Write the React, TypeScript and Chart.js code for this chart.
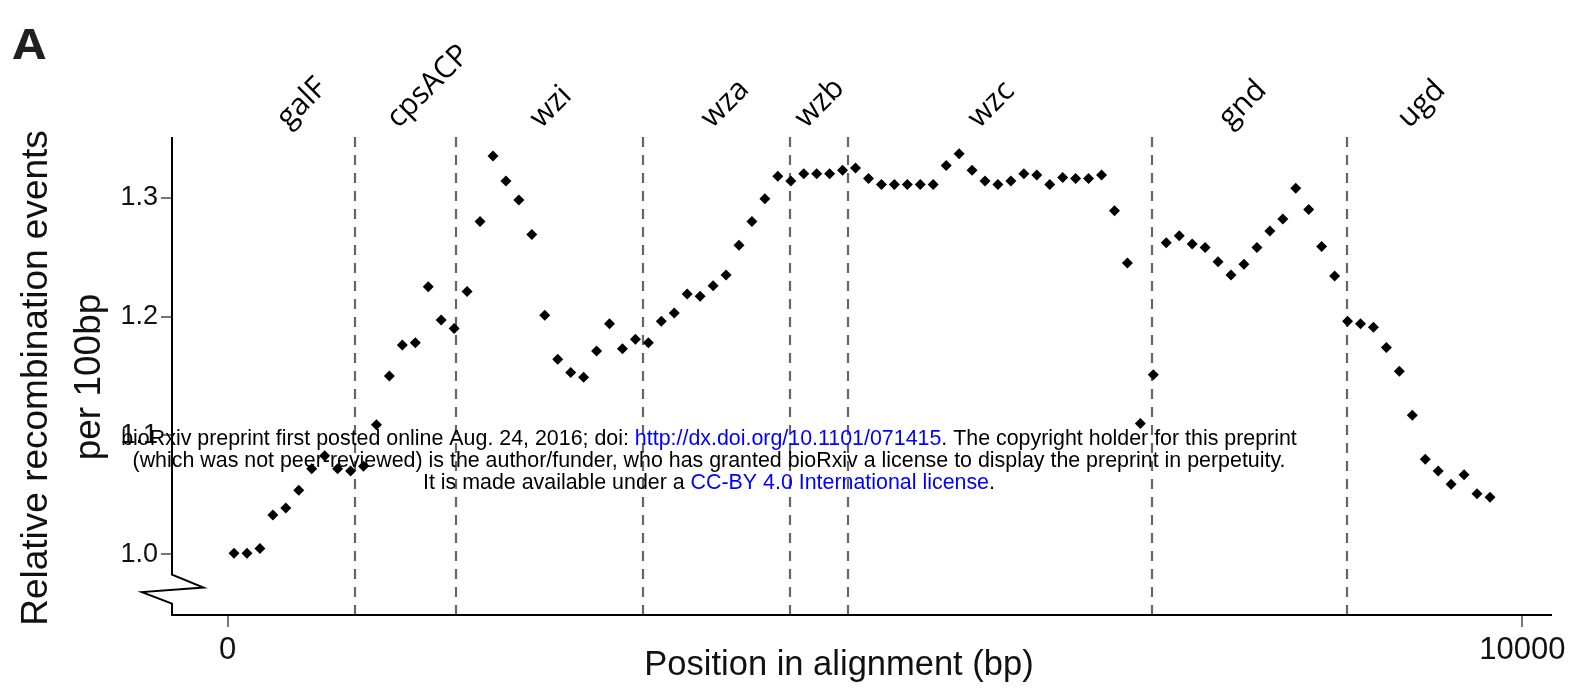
import React, { useEffect, useRef } from "react";
import { Chart, registerables } from "chart.js";

Chart.register(...registerables);

// Window centres along the alignment (bp)
const positions = [
  50, 150, 250, 350, 450, 550, 650, 750, 850, 950,
  1050, 1150, 1250, 1350, 1450, 1550, 1650, 1750, 1850, 1950,
  2050, 2150, 2250, 2350, 2450, 2550, 2650, 2750, 2850, 2950,
  3050, 3150, 3250, 3350, 3450, 3550, 3650, 3750, 3850, 3950,
  4050, 4150, 4250, 4350, 4450, 4550, 4650, 4750, 4850, 4950,
  5050, 5150, 5250, 5350, 5450, 5550, 5650, 5750, 5850, 5950,
  6050, 6150, 6250, 6350, 6450, 6550, 6650, 6750, 6850, 6950,
  7050, 7150, 7250, 7350, 7450, 7550, 7650, 7750, 7850, 7950,
  8050, 8150, 8250, 8350, 8450, 8550, 8650, 8750, 8850, 8950,
  9050, 9150, 9250, 9350, 9450, 9550, 9650, 9750,
];

// Relative recombination events per 100bp
const values = [
  1.001, 1.001, 1.005, 1.033, 1.039, 1.054, 1.072, 1.083, 1.072, 1.07,
  1.074, 1.109, 1.15, 1.176, 1.178, 1.225, 1.197, 1.19, 1.221, 1.28,
  1.335, 1.314, 1.298, 1.269, 1.201, 1.164, 1.153, 1.149, 1.171, 1.194,
  1.173, 1.181, 1.178, 1.196, 1.203, 1.219, 1.217, 1.226, 1.235, 1.26,
  1.28, 1.299, 1.318, 1.314, 1.32, 1.32, 1.32, 1.323, 1.325, 1.316,
  1.311, 1.311, 1.311, 1.311, 1.311, 1.327, 1.337, 1.323, 1.314, 1.311,
  1.314, 1.32, 1.319, 1.311, 1.317, 1.316, 1.316, 1.319, 1.289, 1.245,
  1.11, 1.151, 1.262, 1.268, 1.261, 1.258, 1.246, 1.235, 1.244, 1.258,
  1.272, 1.282, 1.308, 1.29, 1.259, 1.234, 1.196, 1.194, 1.191, 1.174,
  1.154, 1.117, 1.08, 1.07, 1.059, 1.067, 1.051, 1.048,
];

// Gene boundaries (bp) and gene labels (label start positions in bp)
const geneBoundaries = [981, 1761, 3205, 4345, 4791, 7140, 8646];
const geneNames = ["galF", "cpsACP", "wzi", "wza", "wzb", "wzc", "gnd", "ugd"];
const geneLabelPositions = [469, 1318, 2422, 3743, 4469, 5805, 7743, 9125];

const yTickValues = [1.0, 1.1, 1.2, 1.3];
const xTickValues = [0, 10000];

const xTitle = "Position in alignment (bp)";
const yTitleLines = ["Relative recombination events", "per 100bp"];
const panelLabel = "A";

const watermarkLines: { text: string; color: string }[][] = [
  [
    { text: "bioRxiv preprint first posted online Aug. 24, 2016; doi: ", color: "#000000" },
    { text: "http://dx.doi.org/10.1101/071415", color: "#0000ff" },
    { text: ". The copyright holder for this preprint", color: "#000000" },
  ],
  [
    {
      text: "(which was not peer-reviewed) is the author/funder, who has granted bioRxiv a license to display the preprint in perpetuity.",
      color: "#000000",
    },
  ],
  [
    { text: "It is made available under a ", color: "#000000" },
    { text: "CC-BY 4.0 International license", color: "#0000ff" },
    { text: ".", color: "#000000" },
  ],
];

const SANS = "'Liberation Sans', Arial, Helvetica, sans-serif";
const GENE_FONT = "'Open Sans', 'Noto Sans', sans-serif";

export default function App() {
  const canvasRef = useRef<HTMLCanvasElement | null>(null);

  useEffect(() => {
    const canvas = canvasRef.current;
    if (!canvas) return;

    const overlay = {
      id: "overlay",
      beforeDatasetsDraw(chart: any) {
        const { ctx, chartArea, scales } = chart;
        ctx.save();
        ctx.strokeStyle = "#666666";
        ctx.lineWidth = 2.2;
        ctx.setLineDash([10, 8]);
        geneBoundaries.forEach((b) => {
          const x = Math.round(scales.x.getPixelForValue(b));
          ctx.beginPath();
          ctx.moveTo(x, chartArea.top);
          ctx.lineTo(x, chartArea.bottom);
          ctx.stroke();
        });
        ctx.restore();
      },
      afterDraw(chart: any) {
        const { ctx, chartArea, scales } = chart;
        const left = chartArea.left;
        const bottom = chartArea.bottom;
        ctx.save();
        // axes with break
        ctx.strokeStyle = "#000";
        ctx.lineWidth = 2;
        ctx.setLineDash([]);
        const breakY = scales.y.getPixelForValue(0.983);
        ctx.beginPath();
        ctx.moveTo(left, chartArea.top);
        ctx.lineTo(left, breakY);
        ctx.lineTo(left + 31.5, breakY + 13);
        ctx.lineTo(left - 30, breakY + 17.5);
        ctx.lineTo(left, breakY + 29);
        ctx.lineTo(left, bottom);
        ctx.lineTo(chartArea.right, bottom);
        ctx.stroke();

        // axis titles
        ctx.fillStyle = "#111";
        ctx.textAlign = "center";
        ctx.textBaseline = "middle";
        ctx.font = `34.5px ${SANS}`;
        ctx.fillText(xTitle, 839, 665);

        ctx.font = `37px ${SANS}`;
        ctx.save();
        ctx.translate(37, 378);
        ctx.rotate(-Math.PI / 2);
        ctx.fillText(yTitleLines[0], 0, 0);
        ctx.restore();
        ctx.save();
        ctx.translate(90, 377);
        ctx.rotate(-Math.PI / 2);
        ctx.fillText(yTitleLines[1], 0, 0);
        ctx.restore();

        // gene labels
        ctx.font = `30px ${GENE_FONT}`;
        ctx.fillStyle = "#000";
        geneNames.forEach((g, i) => {
          const x = scales.x.getPixelForValue(geneLabelPositions[i]);
          ctx.save();
          ctx.translate(x, chartArea.top - 8);
          ctx.rotate(-Math.PI / 4);
          ctx.textAlign = "left";
          ctx.textBaseline = "alphabetic";
          ctx.fillText(g, 0, 0);
          ctx.restore();
        });

        // panel label
        ctx.save();
        ctx.font = `bold 41px ${GENE_FONT}`;
        ctx.fillStyle = "#231f20";
        ctx.textAlign = "left";
        ctx.textBaseline = "alphabetic";
        ctx.translate(13, 59);
        ctx.scale(1.15, 1);
        ctx.fillText(panelLabel, 0, 0);
        ctx.restore();

        // watermark
        ctx.font = `21.4px ${SANS}`;
        ctx.textBaseline = "middle";
        ctx.textAlign = "left";
        const lineYs = [439.5, 461.5, 483];
        watermarkLines.forEach((parts, li) => {
          const total = parts.reduce((s, p) => s + ctx.measureText(p.text).width, 0);
          let x = 709 - total / 2;
          parts.forEach((p) => {
            ctx.fillStyle = p.color;
            ctx.fillText(p.text, x, lineYs[li]);
            x += ctx.measureText(p.text).width;
          });
        });
        ctx.restore();
      },
    };

    const chart = new Chart(canvas, {
      type: "scatter",
      data: {
        datasets: [
          {
            data: positions.map((p, i) => ({ x: p, y: values[i] })),
            pointStyle: "rectRot",
            pointRadius: 5.5,
            pointBackgroundColor: "#000",
            pointBorderColor: "#000",
            pointBorderWidth: 0,
            showLine: false,
          },
        ],
      },
      options: {
        animation: false,
        responsive: false,
        maintainAspectRatio: false,
        devicePixelRatio: 1,
        layout: {
          autoPadding: false,
          padding: { left: 0, right: 25, top: 137, bottom: 0 },
        },
        plugins: {
          legend: { display: false },
          tooltip: { enabled: false },
        },
        scales: {
          x: {
            type: "linear",
            position: "bottom",
            min: -429,
            max: 10229,
            afterBuildTicks: (s: any) => {
              s.ticks = xTickValues.map((v) => ({ value: v }));
            },
            afterFit: (s: any) => {
              s.height = 74;
            },
            border: { display: false },
            grid: {
              drawOnChartArea: false,
              drawTicks: true,
              tickLength: 12,
              color: "#777",
              lineWidth: 2,
            },
            ticks: {
              color: "#111",
              font: { family: SANS, size: 31 },
              padding: 5,
              maxRotation: 0,
              callback: (v: any) => String(v),
            },
          },
          y: {
            type: "linear",
            min: 0.949,
            max: 1.351,
            afterBuildTicks: (s: any) => {
              s.ticks = yTickValues.map((v) => ({ value: v }));
            },
            afterFit: (s: any) => {
              s.width = 172;
            },
            border: { display: false },
            grid: {
              drawOnChartArea: false,
              drawTicks: true,
              tickLength: 11,
              color: "#777",
              lineWidth: 2,
            },
            ticks: {
              color: "#111",
              font: { family: SANS, size: 27 },
              padding: 3,
              callback: (v: any) => Number(v).toFixed(1),
            },
          },
        },
      },
      plugins: [overlay],
    });

    return () => chart.destroy();
  }, []);

  return (
    <div style={{ position: "absolute", left: 0, top: 0, width: 1577, height: 689, background: "#fff" }}>
      <canvas ref={canvasRef} width={1577} height={689} style={{ display: "block", width: 1577, height: 689 }} />
    </div>
  );
}
